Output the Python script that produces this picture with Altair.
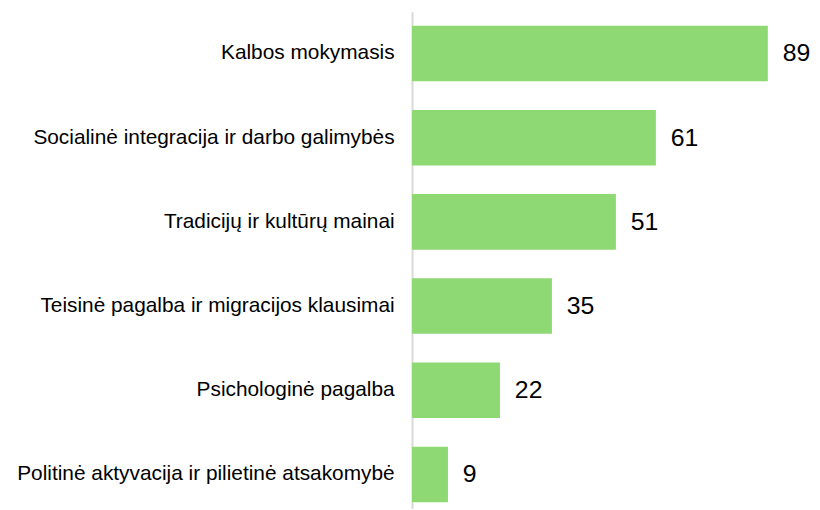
import altair as alt
import pandas as pd

categories = [
    "Kalbos mokymasis",
    "Socialinė integracija ir darbo galimybės",
    "Tradicijų ir kultūrų mainai",
    "Teisinė pagalba ir migracijos klausimai",
    "Psichologinė pagalba",
    "Politinė aktyvacija ir pilietinė atsakomybė",
]
values = [89, 61, 51, 35, 22, 9]

df = pd.DataFrame({"cat": categories, "val": values})

y_enc = alt.Y(
    "cat:N",
    sort=None,
    scale=alt.Scale(paddingInner=0.34, paddingOuter=0.118, align=0.7),
    axis=alt.Axis(
        title=None,
        ticks=False,
        domain=True,
        domainColor="#d9d9d9",
        domainWidth=2,
        labelFontSize=21,
        labelFont="Liberation Sans",
        labelColor="#000000",
        labelPadding=18,
        labelLimit=0,
        grid=False,
    ),
)
x_enc = alt.X(
    "val:Q",
    scale=alt.Scale(domain=[0, 99.3], nice=False, zero=True),
    axis=None,
)

bars = alt.Chart(df).mark_bar(color="#8FD974").encode(x=x_enc, y=y_enc)
labels = alt.Chart(df).mark_text(
    align="left", baseline="middle", dx=15, fontSize=25,
    font="Liberation Sans", color="#000000"
).encode(x=x_enc, y=y_enc, text="val:Q")

chart = (
    alt.layer(bars, labels)
    .properties(
        width=400,
        height=500,
        autosize=alt.AutoSizeParams(type="none"),
        padding={"left": 407, "top": 2, "right": 3, "bottom": 0},
    )
    .configure_view(stroke=None)
)

chart.save("out.html", embed_options={"renderer": "svg", "actions": False})
